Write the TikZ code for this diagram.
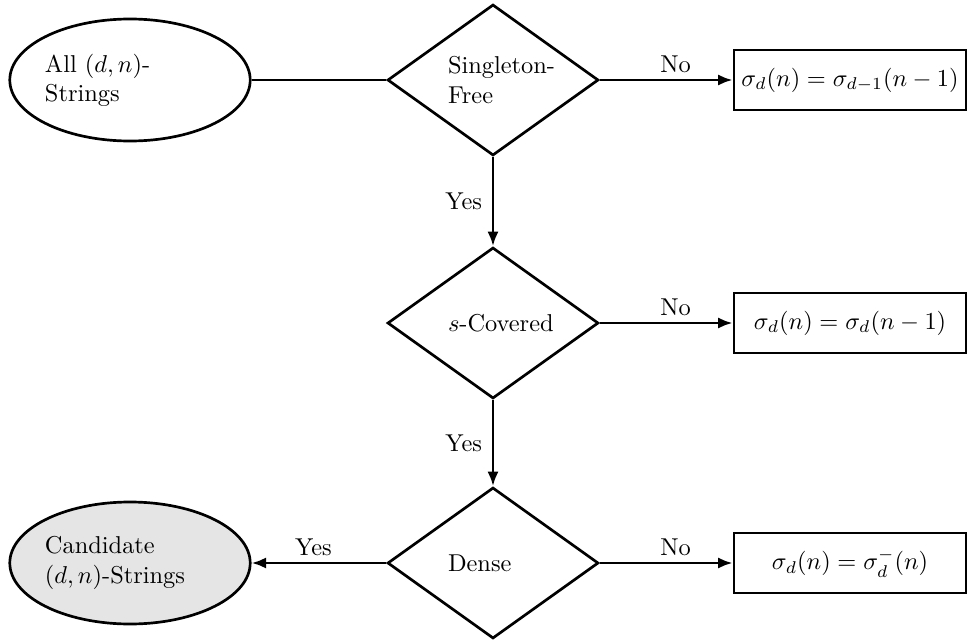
\documentclass[tikz,border=0pt]{standalone}
\usetikzlibrary{shapes.geometric,arrows.meta}
\newcommand\pxu{0.41pt}
\begin{document}
\begin{tikzpicture}[x=0.41pt,y=-0.41pt,line width=1.1pt,
  decision/.style={diamond,draw,aspect=1.4,minimum width=211*\pxu,minimum height=151*\pxu,inner sep=0pt,text width=90*\pxu,align=left},
  terminal/.style={ellipse,draw,minimum width=240*\pxu,minimum height=122*\pxu,inner sep=0pt,text width=170*\pxu,align=left},
  outbox/.style={rectangle,draw,minimum width=232*\pxu,minimum height=60*\pxu,inner sep=0pt},
  lab/.style={inner sep=2.8pt,outer sep=0pt},
  sidelab/.style={inner sep=4.5pt,outer sep=0pt},
  arr/.style={-{Latex[length=6pt,width=4.6pt]}}]
\useasboundingbox (0,0) rectangle (971,642);
\node[terminal] (all) at (130,80) {All $(d,n)$-\\Strings};
\node[decision] (sf) at (493,80) {\mbox{Singleton-}\\Free};
\node[outbox] (b1) at (850,80) {$\sigma_d(n)=\sigma_{d-1}(n-1)$};
\node[decision] (sc) at (493,323) {\mbox{$s$-Covered}};
\node[outbox] (b2) at (850,323) {$\sigma_d(n)=\sigma_d(n-1)$};
\node[decision] (dn) at (493,563) {Dense};
\node[outbox] (b3) at (850,563) {$\sigma_d(n)=\sigma_d^-(n)$};
\node[terminal,fill=gray!20] (cand) at (130,563) {Candidate\\$(d,n)$-Strings};
\draw (all) -- (sf);
\draw[arr] (sf) -- node[lab,above,pos=0.57] {No} (b1);
\draw[arr] (sf) -- node[sidelab,left] {Yes} (sc);
\draw[arr] (sc) -- node[lab,above,pos=0.57] {No} (b2);
\draw[arr] (sc) -- node[sidelab,left] {Yes} (dn);
\draw[arr] (dn) -- node[lab,above,pos=0.57] {No} (b3);
\draw[arr] (dn) -- node[lab,above,pos=0.54] {Yes} (cand);
\end{tikzpicture}
\end{document}
